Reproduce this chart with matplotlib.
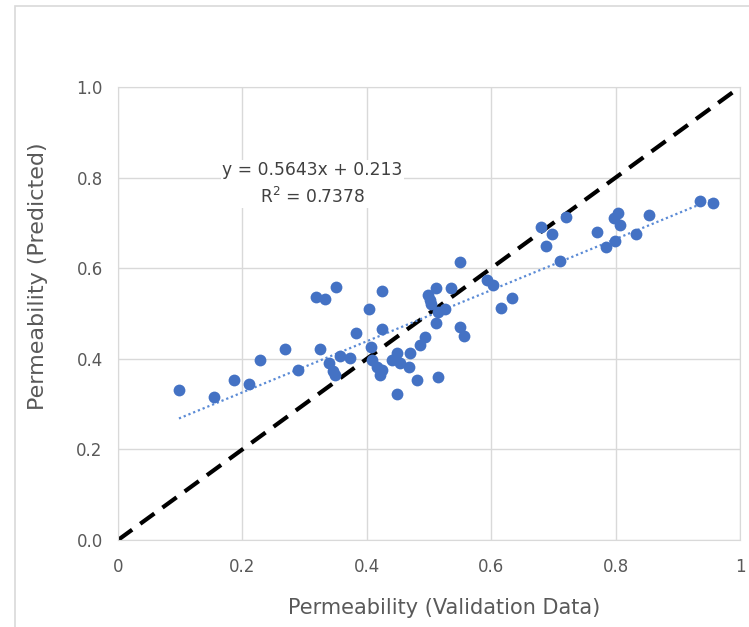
import numpy as np
import matplotlib.pyplot as plt
from matplotlib.patches import Rectangle

# validation vs predicted permeability
x_val = [0.098, 0.155, 0.186, 0.210, 0.229, 0.269, 0.289, 0.318, 0.332, 0.350,
         0.324, 0.339, 0.345, 0.349, 0.357, 0.373, 0.382, 0.404, 0.424, 0.406,
         0.424, 0.409, 0.417, 0.421, 0.424, 0.440, 0.448, 0.448, 0.453, 0.469,
         0.468, 0.480, 0.486, 0.494, 0.499, 0.502, 0.512, 0.504, 0.536, 0.512,
         0.515, 0.515, 0.526, 0.550, 0.550, 0.556, 0.593, 0.603, 0.615, 0.633,
         0.680, 0.688, 0.697, 0.711, 0.721, 0.770, 0.784, 0.799, 0.797, 0.804,
         0.807, 0.833, 0.854, 0.936, 0.957]
y_pred = [0.332, 0.316, 0.353, 0.345, 0.397, 0.422, 0.376, 0.537, 0.533, 0.558,
          0.422, 0.390, 0.372, 0.364, 0.406, 0.401, 0.458, 0.509, 0.550, 0.425,
          0.465, 0.397, 0.383, 0.364, 0.375, 0.397, 0.412, 0.322, 0.390, 0.412,
          0.383, 0.353, 0.430, 0.449, 0.541, 0.530, 0.556, 0.522, 0.556, 0.478,
          0.360, 0.504, 0.511, 0.613, 0.471, 0.450, 0.574, 0.563, 0.513, 0.534,
          0.690, 0.650, 0.675, 0.616, 0.714, 0.679, 0.647, 0.661, 0.710, 0.722,
          0.696, 0.676, 0.717, 0.749, 0.745]

# linear trendline from the chart label
slope = 0.5643
intercept = 0.213
r2 = 0.7378

grey = '#d9d9d9'
txt = '#595959'

fig = plt.figure(figsize=(7.49, 6.27), dpi=100)
fig.patches.append(Rectangle((15 / 749, -0.01), 1.0, 1 - 6 / 627 + 0.01,
                             transform=fig.transFigure, fill=False,
                             edgecolor=grey, lw=1.2))
ax = fig.add_axes([118 / 749, 1 - 540 / 627, 622 / 749, 453 / 627])

ax.plot([0, 1], [0, 1], color='black', lw=3.0, dashes=(4.2, 2.4), zorder=2)

xs = np.array([min(x_val), max(x_val)])
ax.plot(xs, slope * xs + intercept, color='#5b8bd6', lw=1.6, ls=(0, (1, 1.3)), zorder=3)

ax.plot(x_val, y_pred, 'o', color='#4472c4', ms=8.5, mec='none', zorder=4)

ax.text(0.312, 0.786, 'y = %.4fx + %.3f\nR$^2$ = %.4f' % (slope, intercept, r2),
        ha='center', va='center', fontsize=12.3, color='#404040',
        linespacing=1.45,
        bbox=dict(facecolor='white', edgecolor='none', pad=1))

ax.set_xlim(0, 1)
ax.set_ylim(0, 1)
ax.set_xticks(np.arange(0, 1.01, 0.2))
ax.set_xticklabels(['0', '0.2', '0.4', '0.6', '0.8', '1'])
ax.set_yticks(np.arange(0, 1.01, 0.2))
ax.set_yticklabels(['0.0', '0.2', '0.4', '0.6', '0.8', '1.0'])
ax.tick_params(length=0, labelsize=12, labelcolor=txt)
ax.tick_params(axis='x', pad=13)
ax.tick_params(axis='y', pad=11)
ax.grid(True, color=grey, lw=1)
ax.set_axisbelow(True)
for s in ax.spines.values():
    s.set_color(grey)

ax.set_xlabel('Permeability (Validation Data)', fontsize=15, color=txt, labelpad=12)
ax.set_ylabel('Permeability (Predicted)', fontsize=16, color=txt, labelpad=12)
ax.xaxis.set_label_coords(0.524, -0.128)
ax.yaxis.set_label_coords(-0.112, 0.583)

fig.savefig('out.png', dpi=100)
